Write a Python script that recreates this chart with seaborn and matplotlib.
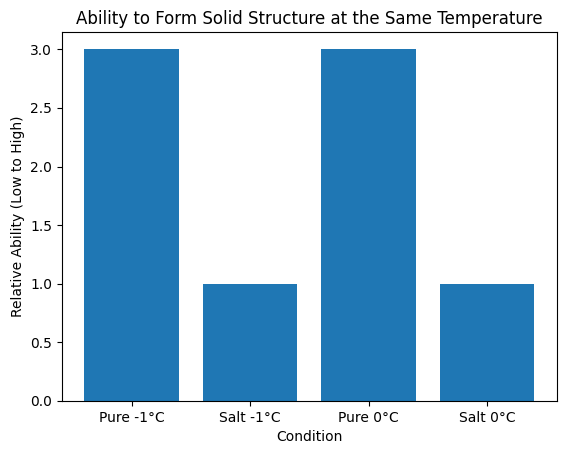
import matplotlib
matplotlib.use('Agg')
import matplotlib.pyplot as plt
import seaborn as sns
import pandas as pd

# 数据
CONDITIONS = ['Pure -1°C', 'Salt -1°C', 'Pure 0°C', 'Salt 0°C']
ABILITY = [3, 1, 3, 1]

df = pd.DataFrame({'Condition': CONDITIONS, 'Ability': ABILITY})

fig, ax = plt.subplots(figsize=(5.67, 4.55), dpi=100)
fig.subplots_adjust(left=0.109, right=0.982, top=0.930, bottom=0.119)

sns.barplot(data=df, x='Condition', y='Ability', color='#1f77b4',
            saturation=1, width=0.8, ax=ax)

# 恢复 matplotlib 默认边距
n = len(CONDITIONS)
pad = 0.05 * (n - 0.2)
ax.set_xlim(-0.4 - pad, n - 0.6 + pad)
ax.set_ylim(0, max(ABILITY) * 1.05)

ax.set_xlabel('Condition')
ax.set_ylabel('Relative Ability (Low to High)')
ax.set_title('Ability to Form Solid Structure at the Same Temperature')

plt.savefig('out.png', dpi=100)
plt.close()
